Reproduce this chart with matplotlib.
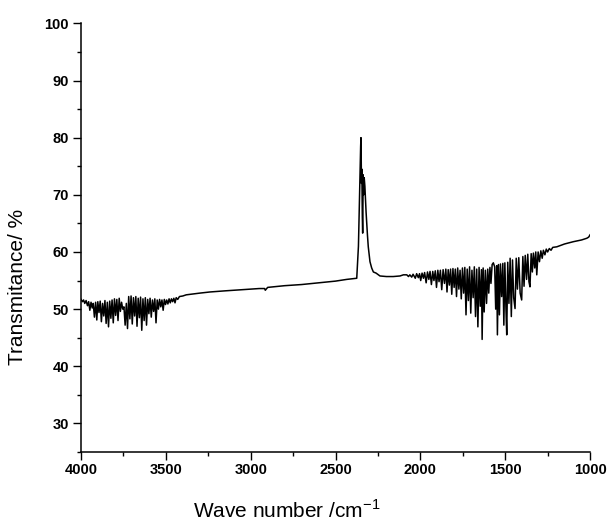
import numpy as np
import matplotlib
matplotlib.use('Agg')
import matplotlib.pyplot as plt
from matplotlib.ticker import MultipleLocator

plt.rcParams['font.family'] = ['Liberation Sans', 'DejaVu Sans']
plt.rcParams['mathtext.fontset'] = 'custom'
plt.rcParams['mathtext.rm'] = 'Liberation Sans'

# water vapour band, high wavenumber side
left_wn = [4000, 3992, 3985, 3978, 3970, 3962, 3955, 3948, 3941, 3934, 3928, 3921,
           3914, 3907, 3901, 3894, 3887, 3880, 3873, 3866, 3859, 3852, 3845, 3838,
           3831, 3824, 3817, 3810, 3803, 3796, 3789, 3782, 3775, 3768, 3761, 3754,
           3747, 3740, 3733, 3726, 3719, 3712, 3705, 3698, 3691, 3684, 3677, 3670,
           3663, 3656, 3649, 3642, 3635, 3628, 3621, 3614, 3607, 3600, 3593, 3586,
           3579, 3572, 3565, 3558, 3551, 3544, 3537, 3530, 3523, 3516, 3509, 3502,
           3495, 3488, 3481, 3474, 3467, 3460, 3453, 3446, 3439, 3430, 3420, 3400]
left_T = [51.7, 51.3, 51.6, 51.0, 51.5, 50.6, 51.3, 49.8, 51.2, 50.2, 51.0, 48.6,
          51.2, 48.1, 51.3, 49.4, 51.4, 47.8, 51.0, 48.8, 51.5, 47.5, 51.2, 46.9,
          51.4, 48.4, 51.6, 47.6, 51.8, 48.9, 51.7, 48.0, 51.9, 49.6, 51.2, 50.0,
          50.4, 47.2, 51.0, 46.6, 52.2, 48.3, 52.3, 47.4, 52.0, 48.8, 52.2, 47.0,
          51.9, 48.5, 52.1, 46.3, 51.8, 48.0, 52.0, 47.2, 51.7, 49.2, 51.9, 48.6,
          51.6, 49.6, 51.8, 47.6, 51.6, 50.0, 51.7, 50.4, 51.6, 49.8, 51.7, 50.8,
          51.6, 50.9, 51.8, 51.1, 51.8, 51.3, 51.9, 51.1, 52.0, 51.7, 52.2, 52.3]

# flat part
mid_wn = [3380, 3300, 3240, 3150, 3050, 2950, 2918, 2914, 2900, 2800, 2700,
          2600, 2500, 2434, 2375]
mid_T = [52.5, 52.8, 53.0, 53.2, 53.4, 53.6, 53.6, 53.3, 53.8, 54.1, 54.3,
         54.6, 54.9, 55.2, 55.4]

# CO2 band
co2_wn = [2365, 2357, 2352, 2350, 2347, 2345, 2342, 2340, 2337, 2334, 2331,
          2327, 2320, 2312, 2307, 2297, 2287, 2277, 2261, 2238, 2200, 2160, 2120]
co2_T = [61.0, 72.0, 78.5, 80.0, 72.0, 74.5, 66.0, 63.3, 73.5, 70.0, 73.0,
         71.5, 67.0, 63.0, 60.9, 58.3, 57.2, 56.5, 56.3, 55.8, 55.7, 55.7, 55.8]

# water vapour band, bending region
right_wn = [2100, 2080, 2070, 2062, 2051, 2043, 2030, 2022, 2012, 2005, 1998, 1990,
            1982, 1975, 1966, 1958, 1950, 1943, 1935, 1927, 1920, 1912, 1905, 1897,
            1890, 1882, 1874, 1866, 1858, 1850, 1843, 1836, 1829, 1822, 1815, 1808,
            1801, 1794, 1787, 1780, 1773, 1766, 1759, 1752, 1745, 1738, 1731, 1724,
            1717, 1710, 1703, 1696, 1689, 1682, 1675, 1668, 1661, 1654, 1647, 1640,
            1636, 1630, 1624, 1617, 1610, 1603, 1597, 1590, 1584, 1577, 1570, 1562,
            1556, 1550, 1546, 1540, 1534, 1528, 1521, 1514, 1508, 1502, 1496, 1491,
            1485, 1478, 1471, 1464, 1457, 1450, 1442, 1435, 1428, 1420, 1412, 1403,
            1396, 1389, 1382, 1374, 1367, 1360, 1354, 1347, 1340, 1334, 1326, 1320,
            1314, 1306, 1298, 1290, 1282, 1275, 1266, 1258, 1250, 1240, 1230, 1220]
right_T = [56.0, 56.0, 55.7, 56.0, 55.6, 56.1, 55.4, 56.2, 55.5, 56.2, 55.0, 56.3,
           55.4, 56.4, 54.6, 56.5, 55.2, 56.6, 54.3, 56.6, 55.0, 56.7, 53.8, 56.8,
           54.8, 56.8, 53.4, 56.9, 54.5, 57.0, 53.0, 56.9, 54.2, 57.0, 52.6, 57.1,
           53.8, 57.0, 52.2, 57.2, 53.5, 56.8, 51.8, 57.2, 52.8, 57.3, 49.0, 57.0,
           51.5, 57.4, 49.3, 56.8, 52.0, 57.4, 48.7, 57.0, 46.9, 57.3, 50.5, 56.9,
           44.7, 57.2, 49.5, 56.8, 51.0, 57.0, 52.8, 57.3, 54.5, 57.8, 58.1, 57.4,
           50.0, 57.6, 45.5, 57.8, 49.0, 57.9, 52.2, 58.0, 47.2, 58.1, 50.5, 45.5,
           58.2, 51.0, 58.9, 48.7, 58.6, 52.0, 50.1, 58.9, 53.5, 59.0, 52.8, 51.6,
           59.2, 54.0, 59.4, 55.2, 59.6, 54.8, 53.9, 59.7, 56.5, 59.8, 57.2, 60.0,
           56.0, 60.0, 58.3, 60.2, 58.9, 60.3, 59.5, 60.5, 60.0, 60.6, 60.3, 60.8]

tail_wn = [1196, 1150, 1098, 1050, 1019, 1008, 1002, 1000]
tail_T = [60.9, 61.4, 61.8, 62.1, 62.4, 62.6, 62.9, 63.0]

wn = np.concatenate([left_wn, mid_wn, co2_wn, right_wn, tail_wn])
T = np.concatenate([left_T, mid_T, co2_T, right_T, tail_T])

fig = plt.figure(figsize=(6.11, 5.27), dpi=100)
ax = fig.add_axes([0.1326, 0.1423, 0.8331, 0.8134])
ax.plot(wn, T, color='black', linewidth=1.1)

ax.set_xlim(4000, 1000)
ax.set_ylim(25, 100)
ax.xaxis.set_major_locator(MultipleLocator(500))
ax.xaxis.set_minor_locator(MultipleLocator(250))
ax.yaxis.set_major_locator(MultipleLocator(10))
ax.yaxis.set_minor_locator(MultipleLocator(5))
ax.set_yticks([30, 40, 50, 60, 70, 80, 90, 100])

for s in ['top', 'right']:
    ax.spines[s].set_visible(False)
for s in ['left', 'bottom']:
    ax.spines[s].set_linewidth(1.1)

ax.tick_params(which='major', direction='out', length=5.8, width=1.0, labelsize=10.5)
ax.tick_params(which='minor', direction='out', length=2.9, width=1.0)
ax.tick_params(axis='x', pad=2)
ax.tick_params(axis='y', pad=3)
for lab in ax.get_xticklabels() + ax.get_yticklabels():
    lab.set_fontweight('bold')

fig.text(287 / 611, 1 - 510 / 527, 'Wave number /cm$^{-1}$', fontsize=15,
         ha='center', va='center')
fig.text(18 / 611, 1 - 287 / 527, 'Transmitance/ %', fontsize=15,
         rotation=90, ha='center', va='center')

fig.savefig('out.png', dpi=100)
